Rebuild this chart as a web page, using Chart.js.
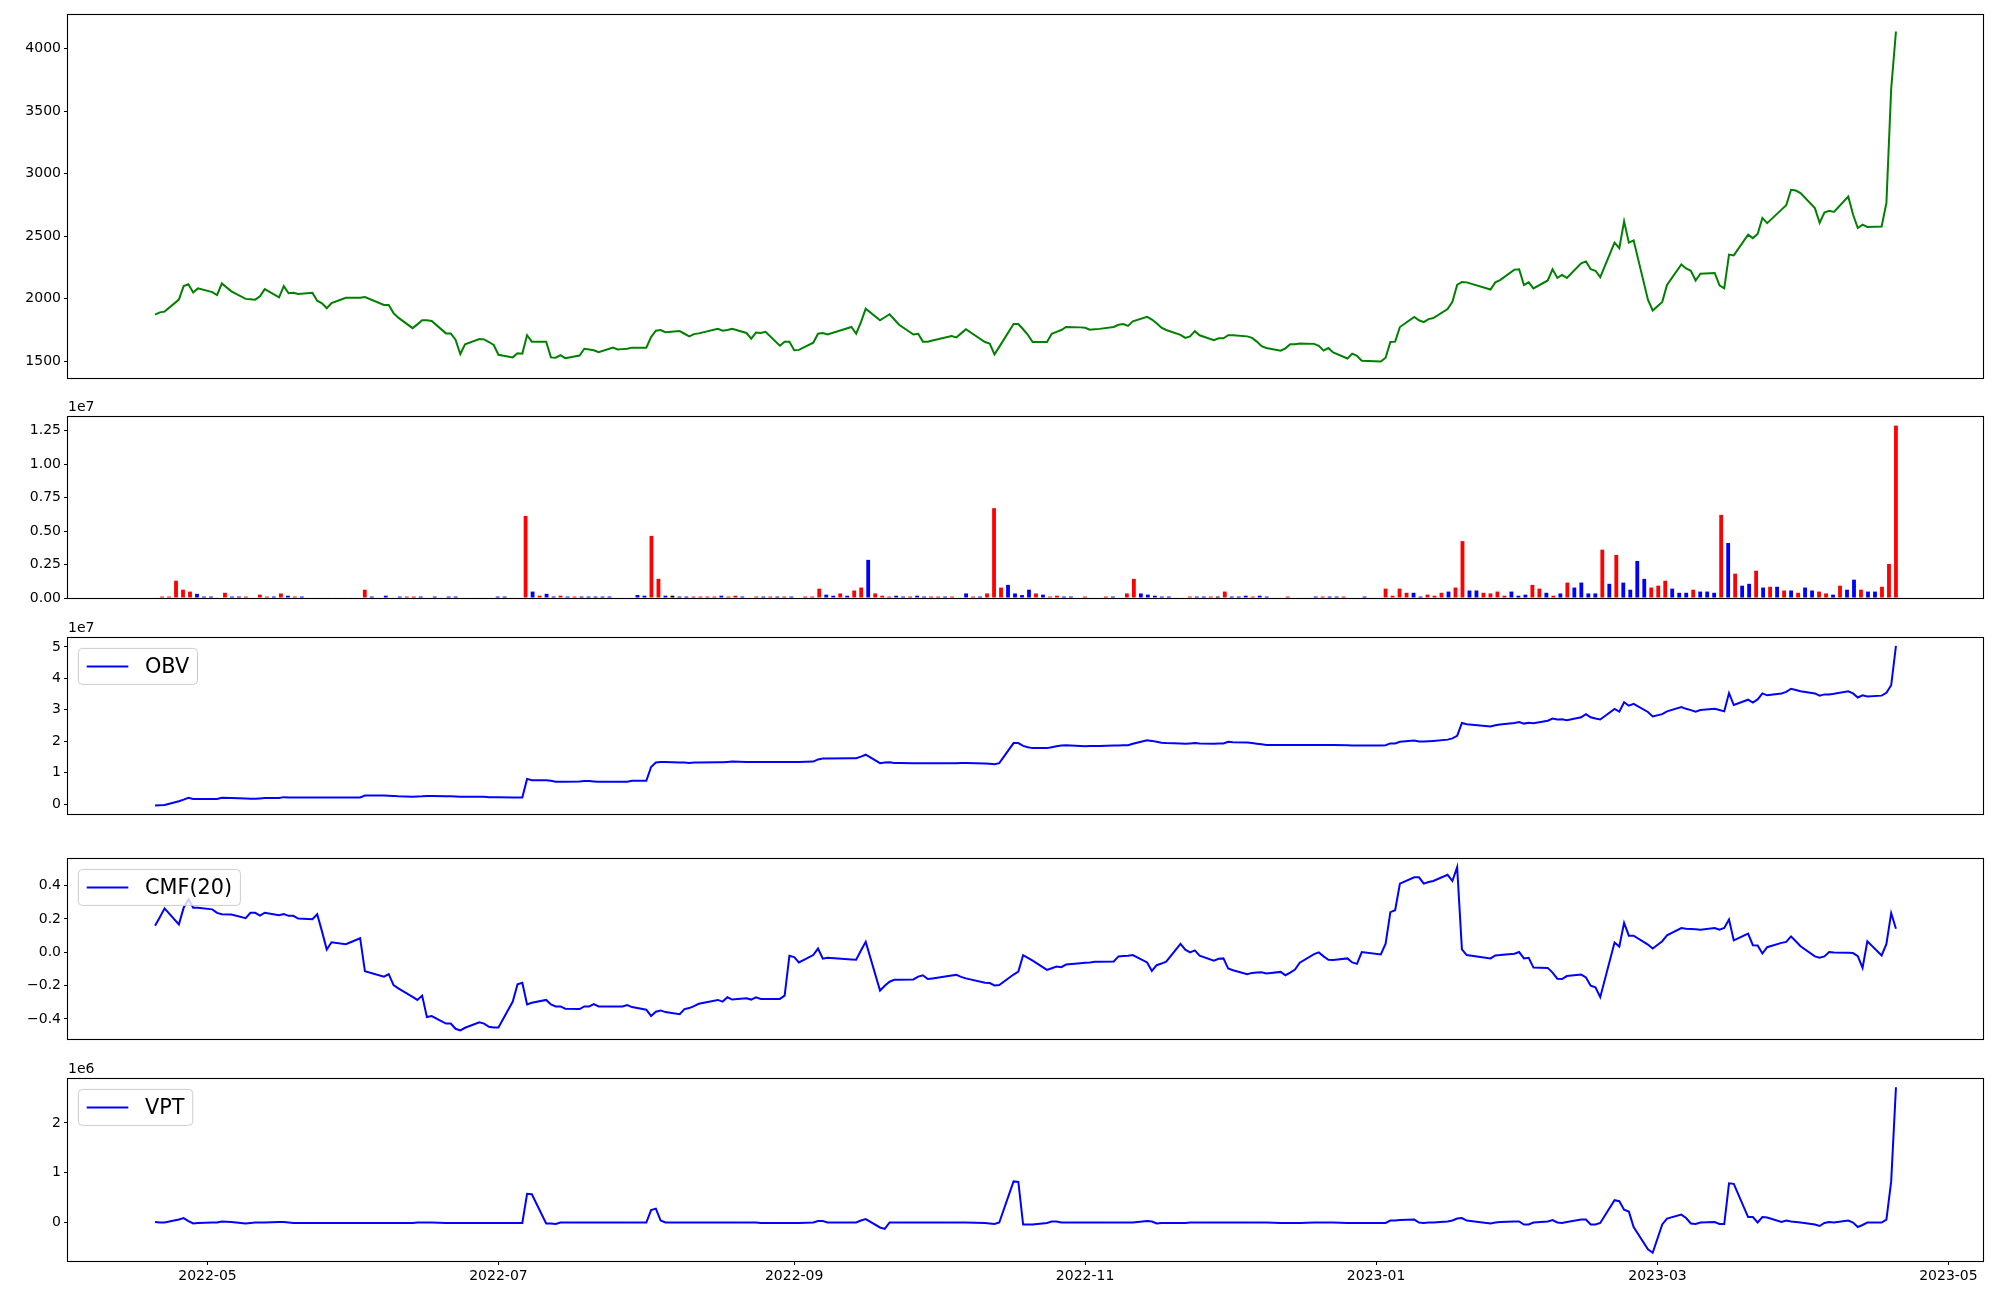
<!DOCTYPE html>
<html><head><meta charset="utf-8">
<script src="https://cdn.jsdelivr.net/npm/chart.js@4.4.0/dist/chart.umd.min.js"></script>
<style>
html,body{margin:0;padding:0;background:#fff;}
#wrap{position:relative;width:2000px;height:1300px;overflow:hidden;background:#fff;}
canvas{position:absolute;left:0;}
</style></head><body><div id="wrap">
<canvas id="c1"></canvas><canvas id="c2"></canvas><canvas id="c3"></canvas><canvas id="c4"></canvas><canvas id="c5"></canvas>
</div>
<script>
// ---------------- DATA ----------------
// trading calendar (KRX): weekdays from 2022-04-20 to 2023-04-20 except these market holidays
const firstDay = '2022-04-20';
const lastDay = '2023-04-20';
const holidays = ['2022-05-05','2022-06-01','2022-06-06','2022-08-15','2022-09-09','2022-09-12',
  '2022-10-03','2022-10-10','2022-12-30','2023-01-23','2023-01-24','2023-03-01'];
const xTickDates = ['2022-05-01','2022-07-01','2022-09-01','2022-11-01','2023-01-01','2023-03-01','2023-05-01'];
const xTickLabels = ['2022-05','2022-07','2022-09','2022-11','2023-01','2023-03','2023-05'];

const close = [
1871,1889,1895,1991,2099,2114,2048,2081,2051,2027,
2120,2057,1997,1994,1991,2018,2075,2009,2099,2042,
2045,2036,2045,1982,1961,1922,1964,2006,2006,2006,
2012,1949,1949,1883,1847,1763,1793,1826,1826,1820,
1721,1721,1670,1556,1634,1676,1673,1652,1628,1550,
1529,1562,1559,1706,1655,1655,1529,1526,1547,1523,
1544,1598,1592,1586,1571,1607,1592,1595,1598,1607,
1607,1691,1742,1748,1730,1739,1718,1697,1715,1721,
1757,1742,1748,1757,1724,1679,1727,1724,1733,1622,
1655,1655,1586,1589,1646,1718,1724,1712,1772,1718,
1811,1919,1826,1850,1874,1832,1790,1712,1718,1655,
1655,1664,1700,1688,1721,1754,1652,1640,1553,1613,
1796,1796,1754,1709,1652,1652,1718,1733,1748,1772,
1769,1766,1751,1754,1757,1772,1790,1796,1781,1817,
1853,1832,1802,1766,1748,1709,1685,1697,1739,1706,
1667,1682,1682,1706,1706,1697,1685,1655,1619,1604,
1583,1601,1634,1634,1640,1637,1622,1583,1604,1568,
1520,1559,1541,1502,1496,1526,1652,1655,1772,1853,
1826,1811,1835,1844,1916,1973,2108,2132,2129,2072,
2129,2147,2231,2234,2108,2129,2081,2144,2234,2165,
2189,2165,2282,2297,2234,2222,2171,2447,2402,2618,
2447,2465,1991,1904,1973,2108,2273,2240,2222,2144,
2198,2204,2105,2081,2351,2345,2510,2483,2516,2645,
2603,2711,2747,2870,2864,2843,2723,2606,2687,2702,
2693,2816,2672,2564,2591,2573,2576,2765,3677,4136];

// volume in units of 1e7 shares (one bar per trading session, bars drawn evenly spaced)
const volume_1e7 = [
.004,.011,.011,.129,.062,.048,.031,.011,.011,.004,
.039,.011,.011,.011,.004,.025,.011,.011,.034,.017,
.011,.011,.004,.004,.004,.004,.004,.004,.004,.004,
.062,.011,.004,.017,.004,.011,.011,.011,.011,.004,
.011,.004,.011,.011,.004,.004,.004,.004,.004,.011,
.011,.004,.004,.613,.048,.017,.031,.011,.017,.011,
.011,.011,.011,.011,.011,.011,.004,.004,.004,.022,
.017,.464,.143,.017,.017,.011,.011,.011,.011,.011,
.011,.017,.011,.017,.011,.004,.011,.011,.011,.011,
.011,.011,.004,.011,.011,.070,.025,.017,.034,.017,
.056,.078,.285,.034,.017,.011,.017,.011,.011,.017,
.011,.011,.011,.011,.011,.004,.034,.011,.011,.034,
.671,.078,.098,.034,.022,.062,.034,.025,.011,.017,
.011,.011,.004,.011,.004,.004,.011,.011,.004,.034,
.143,.034,.025,.017,.011,.011,.004,.004,.011,.011,
.011,.011,.011,.048,.011,.011,.017,.011,.017,.011,
.004,.004,.011,.004,.004,.004,.011,.011,.011,.011,
.011,.004,.004,.011,.004,.004,.070,.017,.070,.039,
.039,.011,.025,.017,.039,.048,.078,.425,.056,.056,
.039,.034,.048,.017,.048,.017,.025,.098,.070,.039,
.017,.034,.115,.078,.115,.034,.034,.361,.106,.322,
.115,.062,.277,.143,.078,.092,.129,.070,.039,.039,
.062,.048,.048,.039,.621,.411,.182,.092,.106,.204,
.078,.084,.084,.056,.056,.039,.078,.056,.048,.034,
.025,.092,.062,.137,.062,.048,.048,.084,.254,1.288];

// bar colour code per day: r = up (red), b = down (blue), k = unchanged (black)
const volumeColorCode =
'rrrrrrbbbb'+'rbbrrrrbrb'+'rbrbbbrrbr'+'rbbbbbrrbb'+'bbbbrrbbbb'+
'bbrrbrbbrb'+'rbbbbbrrrb'+'brrbkbbrrr'+'rbrrbbrbrb'+'rbbrrrbbrb'+
'rrbrrrbbrb'+'brrbrrbrbr'+'rrbbbbrbrr'+'bbbrrrrbbr'+'rbbbbbbrrb'+
'brkrbbbrbb'+'brrrbbbrbb'+'rbbbbrrrrr'+'bbrrrbrrbb'+'rrrrbbbrrb'+
'rbrbbbbrbr'+'bbbbrrrbbb'+'rbbbrbrbbr'+'brbrbrbbrr'+'brbbrbbrrr';

// indicators
const obv_1e7 = [
-0.05,-0.04,-0.03,0.09,0.14,0.20,0.16,0.16,0.16,0.16,
0.20,0.19,0.18,0.17,0.17,0.18,0.19,0.19,0.22,0.21,
0.21,0.21,0.21,0.21,0.21,0.21,0.21,0.21,0.21,0.21,
0.27,0.27,0.265,0.26,0.245,0.235,0.24,0.245,0.255,0.26,
0.25,0.245,0.24,0.235,0.23,0.23,0.23,0.22,0.22,0.22,
0.21,0.21,0.21,0.80,0.76,0.76,0.74,0.71,0.71,0.71,
0.72,0.73,0.73,0.72,0.71,0.71,0.71,0.71,0.71,0.74,
0.74,1.18,1.32,1.34,1.34,1.32,1.32,1.31,1.32,1.32,
1.33,1.33,1.34,1.35,1.34,1.34,1.34,1.34,1.34,1.34,
1.34,1.34,1.34,1.34,1.35,1.42,1.45,1.45,1.46,1.46,
1.51,1.57,1.30,1.32,1.33,1.31,1.31,1.30,1.30,1.30,
1.30,1.30,1.30,1.30,1.31,1.31,1.29,1.28,1.27,1.30,
1.94,1.94,1.85,1.81,1.78,1.78,1.81,1.84,1.86,1.87,
1.85,1.84,1.85,1.85,1.85,1.86,1.86,1.87,1.87,1.92,
2.03,2.01,1.98,1.95,1.94,1.93,1.92,1.93,1.94,1.93,
1.92,1.93,1.93,1.98,1.97,1.96,1.94,1.92,1.90,1.88,
1.88,1.88,1.88,1.88,1.88,1.88,1.88,1.88,1.88,1.88,
1.87,1.86,1.86,1.86,1.86,1.87,1.93,1.93,1.98,2.02,
1.99,1.99,2.00,2.01,2.05,2.09,2.17,2.58,2.54,2.47,
2.51,2.53,2.58,2.61,2.56,2.59,2.57,2.65,2.72,2.69,
2.70,2.67,2.76,2.86,2.76,2.72,2.69,3.03,2.94,3.24,
3.13,3.19,2.93,2.79,2.86,2.95,3.09,3.03,2.99,2.94,
2.99,3.03,2.99,2.95,3.53,3.15,3.32,3.23,3.33,3.52,
3.46,3.52,3.57,3.67,3.63,3.59,3.52,3.45,3.49,3.49,
3.51,3.59,3.52,3.39,3.46,3.42,3.45,3.54,3.78,5.03];

const cmf20 = [
0.159,0.210,0.263,0.167,0.267,0.317,0.267,0.267,0.257,0.236,
0.228,0.226,0.204,0.236,0.236,0.220,0.237,0.222,0.229,0.218,
0.218,0.202,0.198,0.228,0.125,0.016,0.060,0.048,0.060,0.084,
-0.114,-0.147,-0.131,-0.197,-0.217,-0.268,-0.286,-0.260,-0.389,-0.383,
-0.428,-0.428,-0.459,-0.469,-0.453,-0.420,-0.428,-0.447,-0.451,-0.451,
-0.296,-0.192,-0.183,-0.313,-0.303,-0.286,-0.313,-0.325,-0.325,-0.339,
-0.341,-0.325,-0.325,-0.311,-0.325,-0.325,-0.325,-0.325,-0.317,-0.329,
-0.345,-0.382,-0.357,-0.349,-0.359,-0.372,-0.341,-0.335,-0.323,-0.309,
-0.286,-0.296,-0.270,-0.284,-0.276,-0.284,-0.270,-0.280,-0.280,-0.280,
-0.260,-0.021,-0.029,-0.061,-0.017,0.022,-0.039,-0.033,-0.043,-0.045,
0.010,0.062,-0.230,-0.201,-0.177,-0.165,-0.165,-0.163,-0.146,-0.138,
-0.161,-0.157,-0.140,-0.136,-0.148,-0.157,-0.183,-0.185,-0.199,-0.197,
-0.134,-0.116,-0.018,-0.034,-0.051,-0.106,-0.096,-0.086,-0.090,-0.074,
-0.066,-0.063,-0.061,-0.057,-0.057,-0.055,-0.025,-0.023,-0.021,-0.017,
-0.061,-0.112,-0.078,-0.068,-0.057,0.050,0.015,-0.001,0.011,-0.021,
-0.051,-0.039,-0.037,-0.098,-0.108,-0.132,-0.124,-0.122,-0.120,-0.128,
-0.118,-0.138,-0.122,-0.104,-0.063,-0.011,-0.001,-0.025,-0.045,-0.047,
-0.037,-0.061,-0.070,0.001,-0.013,0.051,0.240,0.252,0.411,0.449,
0.449,0.411,0.421,0.427,0.464,0.427,0.510,0.017,-0.017,-0.037,
-0.019,-0.017,-0.009,0.001,-0.037,-0.033,-0.092,-0.094,-0.122,-0.159,
-0.161,-0.143,-0.134,-0.151,-0.201,-0.211,-0.270,0.058,0.034,0.176,
0.099,0.099,0.046,0.022,0.066,0.101,0.145,0.141,0.139,0.137,
0.135,0.145,0.135,0.145,0.196,0.071,0.111,0.042,0.040,-0.008,
0.030,0.056,0.062,0.095,0.066,0.036,-0.025,-0.033,-0.025,0.001,
-0.001,-0.003,-0.005,-0.023,-0.094,0.066,-0.019,0.050,0.234,0.141];

const vpt_1e6 = [
0.00,-0.01,-0.01,0.05,0.08,0.02,-0.03,-0.02,-0.01,-0.01,
0.01,0.00,-0.03,-0.02,-0.01,-0.01,-0.01,0.00,0.00,-0.01,
-0.02,-0.02,-0.02,-0.02,-0.02,-0.02,-0.02,-0.02,-0.02,-0.02,
-0.02,-0.02,-0.02,-0.02,-0.02,-0.02,-0.01,-0.01,-0.01,-0.01,
-0.02,-0.02,-0.02,-0.02,-0.02,-0.02,-0.02,-0.02,-0.02,-0.02,
-0.02,-0.02,-0.02,0.57,0.56,-0.03,-0.03,-0.04,-0.01,-0.01,
-0.01,-0.01,-0.01,-0.01,-0.01,-0.01,-0.01,-0.01,-0.01,-0.01,
-0.01,0.24,0.27,0.03,-0.01,-0.01,-0.01,-0.01,-0.01,-0.01,
-0.01,-0.01,-0.01,-0.01,-0.01,-0.01,-0.01,-0.02,-0.02,-0.02,
-0.02,-0.02,-0.02,-0.02,-0.01,0.02,0.02,-0.01,-0.01,-0.01,
0.03,0.06,-0.11,-0.14,-0.01,-0.01,-0.01,-0.01,-0.01,-0.01,
-0.01,-0.01,-0.01,-0.01,-0.01,-0.01,-0.02,-0.03,-0.04,-0.01,
0.82,0.81,-0.05,-0.05,-0.05,-0.02,0.01,0.01,-0.01,-0.01,
-0.01,-0.01,-0.01,-0.01,-0.01,-0.01,-0.01,-0.01,-0.01,-0.01,
0.02,0.01,-0.03,-0.02,-0.02,-0.02,-0.02,-0.01,-0.01,-0.01,
-0.01,-0.01,-0.01,-0.01,-0.01,-0.01,-0.01,-0.01,-0.01,-0.01,
-0.02,-0.02,-0.02,-0.02,-0.02,-0.01,-0.01,-0.01,-0.01,-0.01,
-0.02,-0.02,-0.02,-0.02,-0.02,-0.02,0.03,0.03,0.04,0.05,
-0.01,-0.02,-0.01,-0.01,0.01,0.03,0.07,0.08,0.03,-0.03,
-0.01,0.00,0.01,0.01,-0.05,-0.05,-0.01,0.01,0.04,-0.01,
-0.02,0.00,0.05,0.05,-0.05,-0.05,-0.02,0.44,0.42,0.25,
0.21,-0.10,-0.55,-0.62,-0.05,0.07,0.15,0.08,-0.03,-0.04,
-0.01,0.00,-0.04,-0.04,0.78,0.77,0.10,0.10,-0.01,0.10,
0.09,0.00,0.03,0.01,0.00,-0.01,-0.05,-0.08,-0.02,0.00,
-0.01,0.03,-0.01,-0.10,-0.06,-0.01,-0.01,0.05,0.82,2.72];

// ---------------- BUILD ----------------
const DAY = 86400000;
const dayNum = s => Date.parse(s + 'T00:00:00Z') / DAY;
const dates = [];
for (let t = dayNum(firstDay); t <= dayNum(lastDay); t++) {
  const d = new Date(t * DAY);
  const wd = d.getUTCDay();
  const s = d.toISOString().slice(0, 10);
  if (wd !== 0 && wd !== 6 && !holidays.includes(s)) dates.push(s);
}
const xs = dates.map(dayNum);
const span = xs[xs.length - 1] - xs[0];
const xMin = xs[0] - 0.05 * span, xMax = xs[xs.length - 1] + 0.05 * span;
const tickDays = xTickDates.map(dayNum);

// the volume bars in the original sit on an evenly spaced session index that spans the same date range
const nBars = volume_1e7.length;
const barMin = -0.05 * (nBars - 1), barMax = (nBars - 1) * 1.05;
const barWidthFrac = 0.8 / (span / (nBars - 1)); // 0.8-day wide bars

function pts(arr){ return arr.map((v,i)=>({x:xs[i], y:v})); }
function padRange(arr){ const mn=Math.min(...arr), mx=Math.max(...arr), s=mx-mn; return [mn-0.05*s, mx+0.05*s]; }
const colorMap = {r:'#ff0000', b:'#0000ff', k:'#000000'};
const barColors = volumeColorCode.split('').map(c => colorMap[c]);

const FONT = 'DejaVu Sans';
const frame = {
  id:'frame',
  afterDraw(chart, args, opts){
    const {ctx, chartArea:a} = chart;
    ctx.save();
    ctx.strokeStyle = '#000'; ctx.lineWidth = 1.1;
    ctx.strokeRect(Math.round(a.left)-0.5, Math.round(a.top)-0.5, Math.round(a.right-a.left)+1, Math.round(a.bottom-a.top)+1);
    if (opts.offsetText){
      ctx.font = '14px "'+FONT+'"'; ctx.fillStyle = '#000';
      ctx.textAlign = 'left'; ctx.textBaseline = 'bottom';
      ctx.fillText(opts.offsetText, a.left, a.top - 3);
    }
    if (opts.legendLabel){
      const fs = 20.8;
      ctx.font = fs + 'px "'+FONT+'"';
      const tw = ctx.measureText(opts.legendLabel).width;
      const x = a.left + 10.4, y = a.top + 10.4;
      const w = 0.4*fs + 2*fs + 0.8*fs + tw + 0.4*fs, h = 36, r = 4;
      ctx.beginPath();
      ctx.moveTo(x+r, y); ctx.lineTo(x+w-r, y); ctx.arcTo(x+w, y, x+w, y+r, r);
      ctx.lineTo(x+w, y+h-r); ctx.arcTo(x+w, y+h, x+w-r, y+h, r);
      ctx.lineTo(x+r, y+h); ctx.arcTo(x, y+h, x, y+h-r, r);
      ctx.lineTo(x, y+r); ctx.arcTo(x, y, x+r, y, r); ctx.closePath();
      ctx.fillStyle = 'rgba(255,255,255,0.8)'; ctx.fill();
      ctx.strokeStyle = '#cccccc'; ctx.lineWidth = 1; ctx.stroke();
      ctx.beginPath(); ctx.strokeStyle = '#0000ff'; ctx.lineWidth = 2;
      ctx.moveTo(x + 0.4*fs, y + h/2); ctx.lineTo(x + 2.4*fs, y + h/2); ctx.stroke();
      ctx.fillStyle = '#000'; ctx.textAlign = 'left'; ctx.textBaseline = 'middle';
      ctx.fillText(opts.legendLabel, x + 3.2*fs, y + h/2 + 1);
    }
    ctx.restore();
  }
};

function makeChart(id, top, height, padTop, padBottom, showX, datasets, yRange, yTicks, yFmt, extra, xRange){
  const cv = document.getElementById(id);
  cv.width = 2000; cv.height = height; cv.style.top = top + 'px';
  const tickStyle = {color:'#000', font:{family:FONT, size:14}};
  const xr = xRange || [xMin, xMax];
  return new Chart(cv.getContext('2d'), {
    data:{datasets},
    options:{
      responsive:false, animation:false, devicePixelRatio:1,
      layout:{padding:{left:0, right:17, top:padTop, bottom:padBottom}},
      plugins:{legend:{display:false}, tooltip:{enabled:false}, frame:extra||{}},
      scales:{
        x:{type:'linear', min:xr[0], max:xr[1], display:showX, offset:false,
           afterBuildTicks:s=>{ s.ticks = tickDays.map(v=>({value:v})); },
           afterFit:s=>{ s.height = showX ? 30 : 0; },
           grid:{display:true, offset:false, drawOnChartArea:false, drawTicks:true, tickLength:4, color:'#000', lineWidth:1},
           border:{display:false},
           ticks:Object.assign({autoSkip:false, maxRotation:0, padding:3,
             callback:(v)=>{ const i = tickDays.indexOf(v); return i>=0 ? xTickLabels[i] : ''; }}, tickStyle)},
        y:{type:'linear', min:yRange[0], max:yRange[1],
           afterBuildTicks:s=>{ s.ticks = yTicks.map(v=>({value:v})); },
           afterFit:s=>{ s.width = 68; },
           grid:{display:true, drawOnChartArea:false, drawTicks:true, tickLength:4, color:'#000', lineWidth:1},
           border:{display:false},
           ticks:Object.assign({padding:3, callback:yFmt}, tickStyle)}
      }
    },
    plugins:[frame]
  });
}

const lineDs = (arr, color) => ({type:'line', data:pts(arr), borderColor:color, borderWidth:2,
  pointRadius:0, tension:0, fill:false});
const minus = s => s.replace('-', '\u2212');

// Panel 1: price
makeChart('c1', 0, 400, 15, 22, false, [lineDs(close, '#008000')], padRange(close),
  [1500,2000,2500,3000,3500,4000], v=>String(v));

// Panel 2: volume bars
const vmax = Math.max(...volume_1e7);
makeChart('c2', 400, 210, 17, 12, false,
  [{type:'bar', data:volume_1e7.map((v,i)=>({x:i, y:v})), backgroundColor:barColors, borderWidth:0,
    barPercentage:barWidthFrac, categoryPercentage:1.0}],
  [0, vmax*1.05], [0,0.25,0.5,0.75,1.0,1.25], v=>v.toFixed(2), {offsetText:'1e7'}, [barMin, barMax]);

// Panel 3: OBV
makeChart('c3', 610, 215, 28, 6, false, [lineDs(obv_1e7, '#0000ff')], padRange(obv_1e7),
  [0,1,2,3,4,5], v=>String(v), {offsetText:'1e7', legendLabel:'OBV'});

// Panel 4: CMF(20)
makeChart('c4', 825, 225, 34, 10, false, [lineDs(cmf20, '#0000ff')], padRange(cmf20),
  [-0.4,-0.2,0,0.2,0.4], v=>minus(v.toFixed(1)), {legendLabel:'CMF(20)'});

// Panel 5: VPT
makeChart('c5', 1050, 250, 29, 9, true, [lineDs(vpt_1e6, '#0000ff')], padRange(vpt_1e6),
  [0,1,2], v=>String(v), {offsetText:'1e6', legendLabel:'VPT'});
</script>
</body></html>
